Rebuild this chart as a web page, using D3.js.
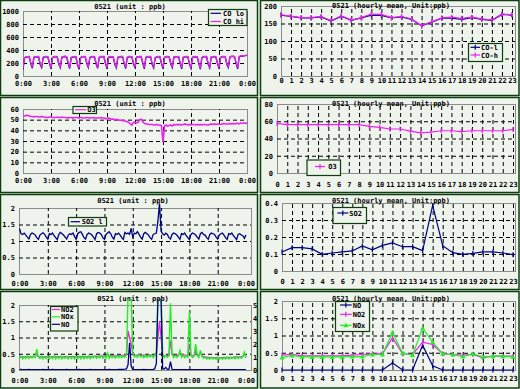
<!DOCTYPE html>
<html>
<head>
<meta charset="utf-8">
<script src="https://cdnjs.cloudflare.com/ajax/libs/d3/7.8.5/d3.min.js"></script>
<style>
body { margin: 0; background: #eef3ec; }
text { font-family: "DejaVu Sans Mono", monospace; font-size: 7px; font-weight: bold; }
</style>
</head>
<body>
<div id="chart"></div>
<script>
// ---------- data ----------
// 10-minute values, 0:00 .. 24:00
var coHi = [
115,285,295,298,300,205, 135,288,300,296,302,195, 150,290,298,300,296,210, 125,286,302,300,298,200,
140,292,300,304,300,215, 130,288,296,300,298,190, 120,285,300,298,302,205, 145,290,298,300,296,200,
135,288,302,300,300,210, 125,292,300,296,298,195, 140,290,296,300,302,205, 130,286,300,302,298,200,
150,292,298,300,300,210, 125,288,300,296,302,195, 140,285,296,300,298,205, 130,290,302,300,296,200,
145,292,300,298,300,210, 125,288,298,302,300,195, 135,290,300,296,298,205, 120,286,302,300,300,200,
140,292,298,300,296,210, 130,290,300,302,298,195, 145,292,304,306,300,205, 125,300,310,312,315,318,
320];
var coLo = [
100,280,290,294,296,190, 120,284,296,292,298,180, 130,286,294,296,292,195, 110,282,298,296,294,185,
125,288,296,300,296,200, 115,284,292,296,294,175, 105,280,296,294,298,190, 130,286,294,296,292,185,
120,284,298,296,296,195, 110,288,296,292,294,180, 125,286,292,296,298,190, 115,282,296,298,294,185,
135,288,294,296,296,195, 110,284,296,292,298,180, 125,280,292,296,294,190, 115,286,298,296,292,185,
130,288,296,294,296,195, 110,284,294,298,296,180, 120,286,296,292,294,190, 105,282,298,296,296,185,
125,288,294,296,292,195, 115,286,296,298,294,180, 130,288,300,302,296,190, 110,296,306,308,311,314,
316];
var o3 = [
53,53.5,54,54,53.5,53, 53,52.5,53,53,52.5,52.5, 53,52.5,52.5,52,52,52.5, 52.5,52,52,52,52.5,52,
52,52.5,52,52,52,51.5, 52,52,51.5,52,52,52, 51.5,52,52,51.5,51.5,52, 52,51.5,51.5,52,51.5,51.5,
51.5,51.5,52,51.5,51.5,51, 51,51.5,51,50.5,50.5,50, 50,50,49.5,49.5,49,49, 48.5,48,47.5,46,45,47.5,
47.5,47,47.5,50,50.5,48, 46.5,46,46,45.5,45.5,45.5, 45,45,45.5,45,45,44.5, 29,44,45,44,44.5,45,
44,45.5,45,45.5,45,45.5, 45,45.5,46,45.5,45,45.5, 45,45.5,45.5,45,45.5,45, 45.5,45,45.5,45.5,45,45,
45.5,46,45.5,46,45.5,46, 46,45.5,46,46.5,46,46, 46,46.5,46,46.5,46,46.5, 46.5,46,47,46.5,47,46.5,
47];
var so2 = [
1.38,1.22,1.20,1.24,1.18,1.12, 1.06,1.20,1.24,1.22,1.18,1.10, 1.05,1.18,1.22,1.25,1.20,1.12, 1.06,1.22,1.20,1.24,1.16,1.10,
1.04,1.20,1.26,1.22,1.18,1.12, 1.06,1.18,1.22,1.20,1.24,1.14, 1.05,1.22,1.26,1.28,1.20,1.10, 1.06,1.20,1.24,1.22,1.18,1.12,
1.04,1.22,1.26,1.24,1.20,1.10, 1.05,1.20,1.24,1.28,1.22,1.12, 1.06,1.22,1.20,1.24,1.18,1.10, 1.05,1.26,1.22,1.24,1.20,1.38,
1.12,1.24,1.22,1.28,1.20,1.12, 1.06,1.22,1.26,1.22,1.18,1.10, 1.05,1.20,1.22,1.24,1.60,2.14, 1.30,1.22,1.18,1.24,1.20,1.10,
1.06,1.20,1.24,1.22,1.18,1.12, 1.05,1.22,1.20,1.24,1.16,1.10, 1.04,1.20,1.24,1.22,1.18,1.12, 1.06,1.22,1.26,1.20,1.18,1.10,
1.05,1.20,1.24,1.22,1.20,1.12, 1.06,1.18,1.22,1.24,1.18,1.10, 1.05,1.22,1.20,1.24,1.16,1.10, 1.04,1.20,1.22,1.18,1.16,1.08,
1.18];
var no2 = [
.40,.41,.40,.41,.40,.41, .41,.40,.42,.41,.42,.48, .41,.40,.41,.40,.41,.40, .41,.41,.40,.41,.40,.41,
.40,.41,.41,.40,.41,.41, .41,.40,.41,.41,.40,.41, .40,.41,.40,.41,.41,.41, .41,.41,.42,.41,.42,.42,
.42,.42,.42,.43,.44,.43, .43,.45,.48,.44,.44,.44, .43,.44,.43,.44,.44,.45, .45,.46,.47,1.2,1.0,.80,
.48,.46,.45,.46,.47,.45, .45,.46,.45,.44,.45,.46, .44,.43,.45,.55,1.0,1.5, 1.0,.47,.43,.44,.45,.45,
.90,.47,.45,.43,.45,.44, .55,.46,.47,.46,.45,.45, .80,.46,.44,.43,.60,.45, .45,.55,.43,.41,.40,.39,
.39,.38,.38,.37,.38,.38, .38,.37,.38,.38,.39,.38, .39,.38,.39,.38,.39,.40, .39,.40,.39,.41,.42,.48,
.40];
var nox = [
.35,.42,.34,.41,.35,.43, .36,.42,.37,.43,.38,.64, .41,.35,.42,.34,.41,.35, .42,.34,.41,.35,.43,.34,
.41,.35,.42,.34,.41,.36, .42,.34,.41,.35,.42,.34, .41,.35,.42,.34,.43,.35, .42,.36,.43,.35,.42,.37,
.43,.36,.42,.37,.44,.36, .43,.37,.52,.36,.44,.38, .43,.37,.44,.38,.45,.38, .44,.39,.46,2.3,2.3,2.3,
.55,.40,.46,.39,.47,.40, .45,.38,.46,.39,.45,.40, .46,.38,.44,.55,2.3,2.3, 2.3,.50,.38,.45,.39,.44,
2.05,.50,.38,.45,.39,.44, .60,.39,.45,.38,.44,.39, 1.8,.45,.38,.44,.80,.45, .39,.60,.42,.36,.40,.34,
.38,.33,.39,.34,.38,.33, .39,.34,.38,.33,.39,.34, .40,.34,.39,.35,.40,.34, .41,.35,.40,.36,.42,.55,
.37];
var no = [
.03,.04,.02,.03,.03,.02, .04,.03,.02,.03,.03,.02, .03,.02,.03,.04,.02,.03, .02,.03,.03,.04,.02,.03,
.02,.03,.03,.02,.03,.02, .04,.03,.03,.03,.02,.03, .02,.03,.04,.03,.03,.02, .03,.02,.03,.04,.02,.03,
.03,.02,.03,.03,.02,.03, .03,.02,.03,.04,.03,.02, .03,.02,.03,.05,.04,.05, .05,.06,.08,.40,2.1,.30,
.05,.03,.02,.03,.03,.02, .03,.04,.03,.02,.03,.03, .03,.05,.10,.50,5.5,5.5, 5.5,.10,.08,.20,.05,.04,
.65,.05,.03,.02,.03,.02, .03,.02,.03,.02,.02,.03, .02,.03,.02,.03,.03,.02, .03,.02,.02,.03,.02,.03,
.03,.02,.03,.02,.02,.03, .02,.03,.03,.02,.03,.02, .02,.03,.02,.03,.03,.02, .03,.02,.03,.02,.02,.03,
.03];

// hourly means, hour 0 .. 23
var hourLabels = d3.range(0, 24);
var coHHourly = [175,171,167,167,170,158,172,160,167,177,176,167,170,163,144,155,166,168,165,168,163,160,177,175];
var coLHourly = [174,170,166,166,169,157,171,159,166,174,173,166,169,162,143,154,165,165,162,167,162,159,176,174];
var o3Hourly  = [57.5,56,56,56,56,56,56,56,56,54,53,51,51,48.5,46.6,47.4,49,49,48,49,49,49,49,50.5];
var so2Hourly = [.112,.137,.137,.13,.098,.106,.112,.118,.147,.125,.151,.165,.143,.143,.12,.386,.149,.108,.098,.104,.112,.112,.106,.096];
var noHourly  = [0,0,0,0,0,0,0,0,0,0,0,.2,0,0,.72,.12,0,0,0,0,0,0,0,0];
var no2Hourly = [.43,.45,.41,.41,.41,.41,.41,.43,.45,.47,.47,.94,.47,.45,.81,.74,.47,.45,.43,.45,.36,.4,.4,.4];
var noxHourly = [.36,.42,.38,.38,.38,.38,.38,.39,.39,.45,.45,1.09,.49,.43,1.21,.81,.47,.45,.39,.47,.38,.4,.4,.38];

var minuteTicks = d3.range(0, 25, 3);
var titleMinute = "0521 (unit : ppb)";
var titleHourly = "0521 (hourly mean, Unit:ppb)";

// ---------- drawing ----------
var W = 520, H = 389;
var bg = "#eef3ec", frame = "#0e3e0e", plotEdge = "#8c8c8c";
var navy = "#000080", magenta = "#ee22ee", green = "#22ee22";
var fmt = d3.format("~g");

var svg = d3.select("#chart").append("svg")
    .attr("width", W)
    .attr("height", H);

svg.append("rect").attr("width", W).attr("height", H).attr("fill", bg);

// panel frames
var panelRows = [[0.5, 95.5], [97.5, 192.5], [194.5, 289.5], [291.5, 388]];
panelRows.forEach(function (r) {
    svg.append("rect").attr("x", 0.5).attr("y", r[0]).attr("width", 257).attr("height", r[1] - r[0])
        .attr("fill", "none").attr("stroke", frame).attr("stroke-width", 1.5);
    svg.append("rect").attr("x", 260.5).attr("y", r[0]).attr("width", 258.5).attr("height", r[1] - r[0])
        .attr("fill", "none").attr("stroke", frame).attr("stroke-width", 1.5);
});

var clipId = 0;

function styleText(sel) {
    sel.attr("font-family", null).attr("font-size", null);
    sel.selectAll("text").attr("fill", "#000");
}

function grid(g, p, x, y, xVals) {
    // horizontal dashed lines
    g.append("g")
        .attr("transform", "translate(" + p.left + ",0)")
        .call(d3.axisLeft(y).tickValues(p.yTicks.slice(1, -1)).tickSize(-(p.right - p.left)).tickFormat(""))
        .call(function (a) { a.select(".domain").remove(); })
        .selectAll("line").attr("stroke", "#000").attr("stroke-dasharray", "4,3");
    // vertical dashed lines
    g.append("g")
        .attr("transform", "translate(0," + p.bottom + ")")
        .call(d3.axisBottom(x).tickValues(xVals).tickSize(-(p.bottom - p.top)).tickFormat(""))
        .call(function (a) { a.select(".domain").remove(); })
        .selectAll("line").attr("stroke", "#000").attr("stroke-dasharray", "4,3");
}

function legend(g, L) {
    g.append("rect").attr("x", L.x + .5).attr("y", L.y + .5).attr("width", L.w).attr("height", L.h)
        .attr("fill", bg).attr("stroke", frame).attr("stroke-width", 1.2);
    L.items.forEach(function (it, i) {
        var yy = L.rows[i];
        g.append("line").attr("x1", L.lx0).attr("x2", L.lx1).attr("y1", yy).attr("y2", yy)
            .attr("stroke", it.color).attr("stroke-width", 1.2);
        if (it.marker) marker(g, (L.lx0 + L.lx1) / 2, yy, it.color, it.marker);
        g.append("text").attr("x", L.tx).attr("y", yy + 2.5).text(it.name);
    });
}

function marker(g, cx, cy, color, kind) {
    if (kind == "tri") {
        g.append("path").attr("d", "M" + (cx - 2.5) + "," + (cy + 2) + "L" + cx + "," + (cy - 2.5) + "L" + (cx + 2.5) + "," + (cy + 2) + "Z")
            .attr("fill", color);
    } else {
        g.append("line").attr("x1", cx).attr("x2", cx).attr("y1", cy - 2.5).attr("y2", cy + 2.5)
            .attr("stroke", color).attr("stroke-width", 1.2);
    }
}

function yLabels(g, p, y) {
    g.append("g")
        .attr("transform", "translate(" + (p.left - 4) + ",0)")
        .call(d3.axisLeft(y).tickValues(p.yTicks).tickSize(0).tickPadding(0).tickFormat(fmt))
        .call(function (a) { a.select(".domain").remove(); })
        .call(styleText);
}

function minuteChart(p) {
    var g = svg.append("g");
    var x = d3.scaleLinear().domain([0, 24]).range([p.x0, p.x1]);
    var y = d3.scaleLinear().domain([p.yTicks[0], p.yTicks[p.yTicks.length - 1]]).range([p.bottom, p.top]);
    var yR = d3.scaleLinear().domain([0, 5]).range([p.bottom, p.top]);

    g.append("rect").attr("x", p.left + .5).attr("y", p.top + .5)
        .attr("width", p.right - p.left).attr("height", p.bottom - p.top)
        .attr("fill", "none").attr("stroke", plotEdge);

    grid(g, p, x, y, minuteTicks.slice(1, -1));
    yLabels(g, p, y);

    if (p.yRight) {
        g.append("g")
            .attr("transform", "translate(" + (p.right + 2) + ",0)")
            .call(d3.axisRight(yR).tickValues(p.yRight).tickSize(0).tickPadding(0).tickFormat(fmt))
            .call(function (a) { a.select(".domain").remove(); })
            .call(styleText);
    }

    g.append("g")
        .attr("transform", "translate(0," + p.labelY + ")")
        .call(d3.axisBottom(x).tickValues(minuteTicks).tickSize(0).tickPadding(0)
            .tickFormat(function (d) { return (d % 24) + ":00"; }))
        .call(function (a) { a.select(".domain").remove(); })
        .call(styleText);

    g.append("text").attr("x", p.titleX).attr("y", p.titleY).attr("text-anchor", "middle").text(titleMinute);

    var cid = "clip" + (clipId++);
    g.append("clipPath").attr("id", cid).append("rect")
        .attr("x", p.left).attr("y", p.top - 6).attr("width", p.right - p.left).attr("height", p.bottom - p.top + 6);

    p.series.forEach(function (s) {
        var ys = s.right ? yR : y;
        var line = d3.line()
            .x(function (d, i) { return x(i * s.step / 60); })
            .y(function (d) { return ys(d); });
        g.append("path").datum(s.values).attr("clip-path", "url(#" + cid + ")")
            .attr("d", line).attr("fill", "none").attr("stroke", s.color).attr("stroke-width", s.width || 1.3);
    });

    legend(g, p.legend);
}

function hourlyChart(p) {
    var g = svg.append("g");
    var x = d3.scaleLinear().domain([0, 23]).range([p.x0, p.x1]);
    var y = d3.scaleLinear().domain([p.yTicks[0], p.yTicks[p.yTicks.length - 1]]).range([p.bottom, p.top]);

    g.append("rect").attr("x", p.left + .5).attr("y", p.top + .5)
        .attr("width", p.right - p.left).attr("height", p.bottom - p.top)
        .attr("fill", "none").attr("stroke", plotEdge);

    grid(g, p, x, y, hourLabels.slice(1));
    yLabels(g, p, y);

    g.append("g")
        .attr("transform", "translate(0," + p.labelY + ")")
        .call(d3.axisBottom(x).tickValues(hourLabels).tickSize(0).tickPadding(0))
        .call(function (a) { a.select(".domain").remove(); })
        .call(styleText);

    g.append("text").attr("x", p.titleX).attr("y", p.titleY).attr("text-anchor", "middle").text(titleHourly);

    p.series.forEach(function (s) {
        var line = d3.line()
            .x(function (d, i) { return x(i); })
            .y(function (d) { return y(d); });
        g.append("path").datum(s.values).attr("d", line)
            .attr("fill", "none").attr("stroke", s.color).attr("stroke-width", 1.2);
        s.values.forEach(function (d, i) { marker(g, x(i), y(d), s.color, s.marker); });
    });

    legend(g, p.legend);
}

// ---------- panels ----------
minuteChart({
    left: 23, right: 247, top: 11, bottom: 76, x0: 23, x1: 247, labelY: 81,
    titleX: 130, titleY: 8.5,
    yTicks: [0, 200, 400, 600, 800, 1000],
    series: [{values: coLo, step: 10, color: navy}, {values: coHi, step: 10, color: magenta}],
    legend: {x: 208, y: 9, w: 38.5, h: 16, rows: [13.3, 21.5], lx0: 210.5, lx1: 221, tx: 223,
        items: [{name: "CO lo", color: navy}, {name: "CO hi", color: magenta}]}
});

hourlyChart({
    left: 281, right: 515, top: 6, bottom: 76, x0: 281, x1: 512, labelY: 78,
    titleX: 391, titleY: 8,
    yTicks: [0, 50, 100, 150, 200],
    series: [{values: coLHourly, color: navy, marker: "plus"}, {values: coHHourly, color: magenta, marker: "plus"}],
    legend: {x: 468, y: 43, w: 34, h: 18, rows: [47.3, 55], lx0: 470.5, lx1: 480, tx: 481,
        items: [{name: "CO-l", color: navy, marker: "plus"}, {name: "CO-h", color: magenta, marker: "plus"}]}
});

minuteChart({
    left: 23, right: 247, top: 109, bottom: 173, x0: 23, x1: 247, labelY: 178,
    titleX: 130, titleY: 105.5,
    yTicks: [0, 10, 20, 30, 40, 50, 60],
    series: [{values: o3, step: 10, color: magenta, width: 1.6}],
    legend: {x: 72.5, y: 106, w: 23.5, h: 7, rows: [109.7], lx0: 75, lx1: 86, tx: 87.3,
        items: [{name: "O3", color: magenta}]}
});

hourlyChart({
    left: 277, right: 515, top: 104, bottom: 173, x0: 277, x1: 513, labelY: 182,
    titleX: 391, titleY: 105.5,
    yTicks: [0, 20, 40, 60, 80],
    series: [{values: o3Hourly, color: magenta, marker: "plus"}],
    legend: {x: 306.5, y: 159.5, w: 33.5, h: 15.5, rows: [166.5], lx0: 315, lx1: 325, tx: 328.3,
        items: [{name: "O3", color: magenta, marker: "plus"}]}
});

minuteChart({
    left: 19, right: 251, top: 208, bottom: 274, x0: 19.5, x1: 246, labelY: 281,
    titleX: 133, titleY: 203,
    yTicks: [0, 0.5, 1, 1.5, 2],
    series: [{values: so2, step: 10, color: navy}],
    legend: {x: 68, y: 217, w: 38, h: 8.5, rows: [221.7], lx0: 70.7, lx1: 80, tx: 81.7,
        items: [{name: "SO2 l", color: navy}]}
});

hourlyChart({
    left: 282, right: 515, top: 203, bottom: 271, x0: 282, x1: 513, labelY: 279,
    titleX: 391, titleY: 203,
    yTicks: [0, 0.1, 0.2, 0.3, 0.4],
    series: [{values: so2Hourly, color: navy, marker: "plus"}],
    legend: {x: 332.5, y: 207, w: 33.5, h: 16, rows: [213], lx0: 337.3, lx1: 348.3, tx: 349.3,
        items: [{name: "SO2", color: navy, marker: "plus"}]}
});

minuteChart({
    left: 19, right: 251, top: 305, bottom: 370, x0: 19.5, x1: 246, labelY: 378,
    titleX: 133, titleY: 300.5,
    yTicks: [0, 0.5, 1, 1.5, 2], yRight: [0, 1, 2, 3, 4, 5],
    series: [{values: no2, step: 10, color: magenta}, {values: nox, step: 10, color: green, width: 1.4},
        {values: no, step: 10, color: navy, right: true}],
    legend: {x: 50, y: 306, w: 27.5, h: 24.5, rows: [309.5, 316.8, 324.3], lx0: 51.7, lx1: 60, tx: 61,
        items: [{name: "NO2", color: magenta}, {name: "NOx", color: green}, {name: "NO", color: navy}]}
});

hourlyChart({
    left: 282, right: 515, top: 301, bottom: 370, x0: 282, x1: 513, labelY: 376,
    titleX: 391, titleY: 300.5,
    yTicks: [0, 0.5, 1, 1.5, 2],
    series: [{values: noHourly, color: navy, marker: "plus"}, {values: no2Hourly, color: magenta, marker: "plus"},
        {values: noxHourly, color: green, marker: "tri"}],
    legend: {x: 335, y: 301, w: 34, h: 30, rows: [305, 314.3, 325.3], lx0: 340, lx1: 351.7, tx: 352.7,
        items: [{name: "NO", color: navy, marker: "plus"}, {name: "NO2", color: magenta, marker: "plus"},
            {name: "NOx", color: green, marker: "tri"}]}
});
</script>
</body>
</html>
